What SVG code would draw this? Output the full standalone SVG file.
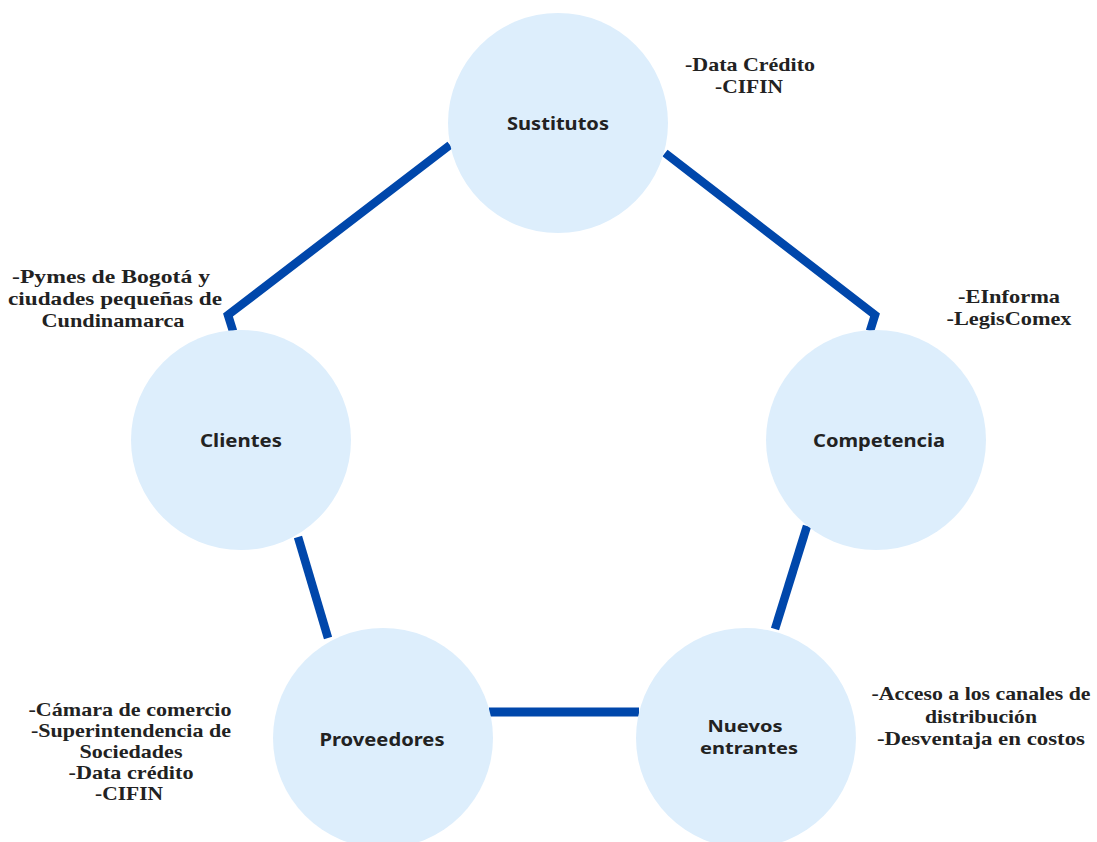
<svg xmlns="http://www.w3.org/2000/svg" width="1097" height="842" viewBox="0 0 1097 842">
<style>
.node circle{fill:#DDEEFC;}
.lbl{font-family:"Noto Sans","Open Sans",sans-serif;font-weight:bold;font-size:17px;fill:#222;text-anchor:middle;}
.sm{font-size:16px;}
.note{font-family:"Liberation Serif","Times New Roman",serif;font-weight:bold;font-size:19px;fill:#222;text-anchor:middle;}
.conn{fill:none;stroke:#0047AB;stroke-width:8.5;stroke-linejoin:miter;stroke-linecap:butt;}
</style>
<rect width="1097" height="842" fill="#ffffff"/>
<g id="connectors">
<polyline class="conn" points="450,145 228,315 233,331"/>
<polyline class="conn" points="665,153 875,315 870,331"/>
<line class="conn" x1="298" y1="537" x2="328" y2="638"/>
<line class="conn" x1="807" y1="526" x2="775" y2="629"/>
<line class="conn" x1="489" y1="712" x2="639" y2="712" style="stroke-width:9"/>
</g>
<g id="sustitutos" class="node">
<circle cx="558" cy="123" r="110"/>
<text class="lbl" x="558" y="130" textLength="102" lengthAdjust="spacingAndGlyphs">Sustitutos</text>
</g>
<g id="clientes" class="node">
<circle cx="241" cy="440" r="110"/>
<text class="lbl" x="241" y="447" textLength="82" lengthAdjust="spacingAndGlyphs">Clientes</text>
</g>
<g id="competencia" class="node">
<circle cx="876" cy="440" r="110"/>
<text class="lbl" x="879" y="447" textLength="132" lengthAdjust="spacingAndGlyphs">Competencia</text>
</g>
<g id="proveedores" class="node">
<circle cx="383" cy="738" r="110"/>
<text class="lbl" x="382" y="746" textLength="125" lengthAdjust="spacingAndGlyphs">Proveedores</text>
</g>
<g id="nuevos-entrantes" class="node">
<circle cx="746" cy="738" r="110"/>
<text class="lbl sm" x="745" y="732" textLength="75" lengthAdjust="spacingAndGlyphs">Nuevos</text>
<text class="lbl sm" x="749" y="754" textLength="98" lengthAdjust="spacingAndGlyphs">entrantes</text>
</g>
<g id="notes">
<text class="note" x="750" y="71" textLength="130" lengthAdjust="spacingAndGlyphs">-Data Crédito</text>
<text class="note" x="749" y="93" textLength="68" lengthAdjust="spacingAndGlyphs">-CIFIN</text>
<text class="note" x="1009" y="303" textLength="102" lengthAdjust="spacingAndGlyphs">-EInforma</text>
<text class="note" x="1009" y="325" textLength="125" lengthAdjust="spacingAndGlyphs">-LegisComex</text>
<text class="note" x="111" y="283" textLength="198" lengthAdjust="spacingAndGlyphs">-Pymes de Bogotá y</text>
<text class="note" x="115" y="305" textLength="214" lengthAdjust="spacingAndGlyphs">ciudades pequeñas de</text>
<text class="note" x="113" y="327" textLength="143" lengthAdjust="spacingAndGlyphs">Cundinamarca</text>
<text class="note" x="130" y="716" textLength="203" lengthAdjust="spacingAndGlyphs">-Cámara de comercio</text>
<text class="note" x="131" y="737" textLength="200" lengthAdjust="spacingAndGlyphs">-Superintendencia de</text>
<text class="note" x="131" y="758" textLength="103" lengthAdjust="spacingAndGlyphs">Sociedades</text>
<text class="note" x="131" y="779" textLength="125" lengthAdjust="spacingAndGlyphs">-Data crédito</text>
<text class="note" x="129" y="800" textLength="68" lengthAdjust="spacingAndGlyphs">-CIFIN</text>
<text class="note" x="981" y="700" textLength="219" lengthAdjust="spacingAndGlyphs">-Acceso a los canales de</text>
<text class="note" x="981" y="723" textLength="112" lengthAdjust="spacingAndGlyphs">distribución</text>
<text class="note" x="981" y="745" textLength="208" lengthAdjust="spacingAndGlyphs">-Desventaja en costos</text>
</g>
</svg>
